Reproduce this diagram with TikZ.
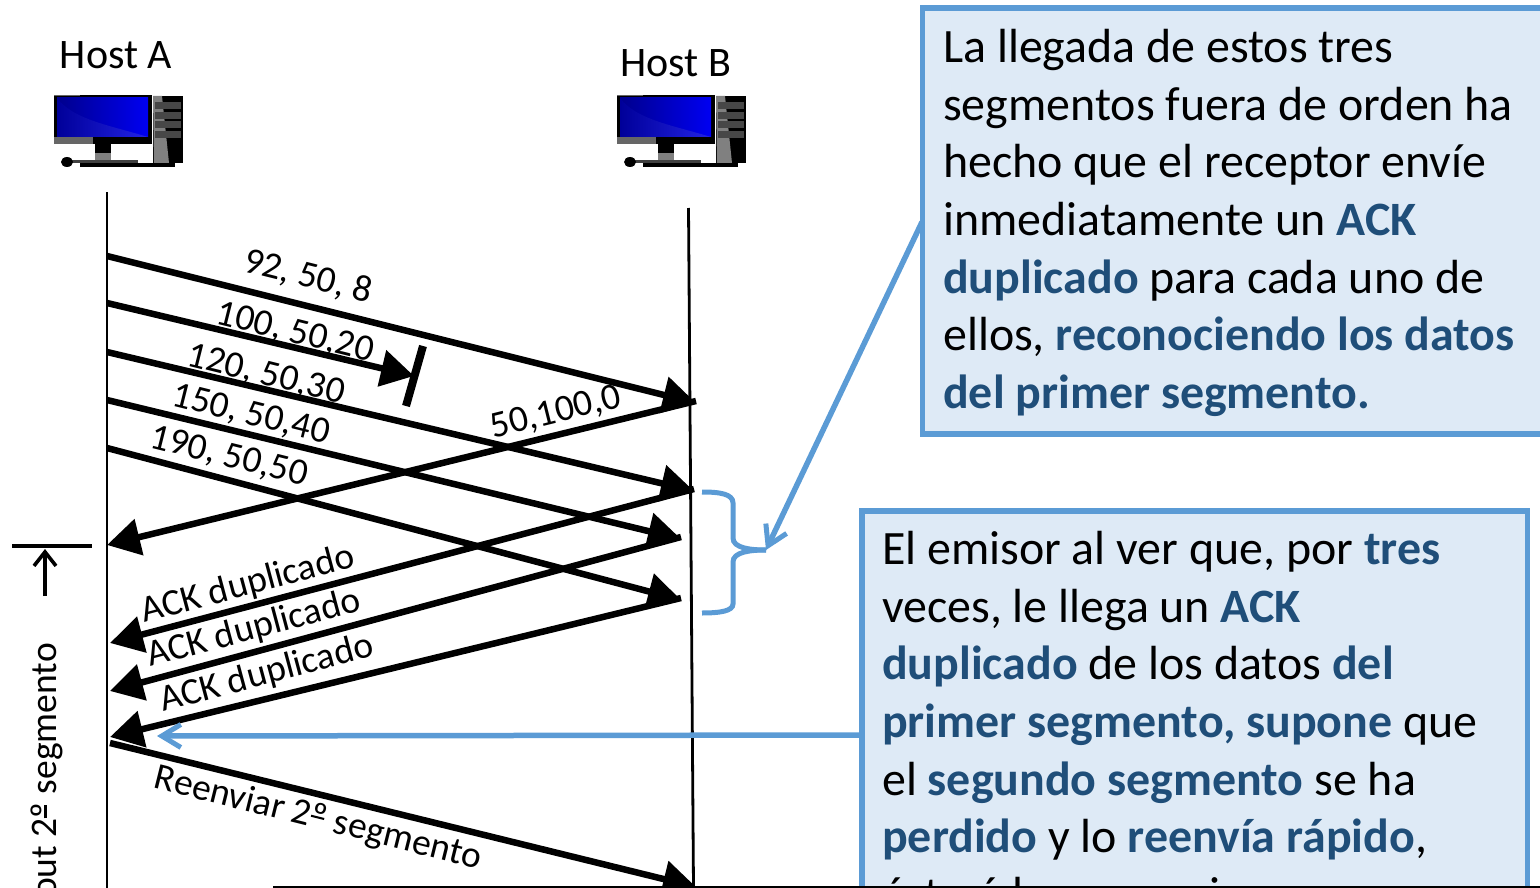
\documentclass[tikz,border=0pt]{standalone}
\usepackage{fontspec}
\setmainfont{Carlito}
\usetikzlibrary{arrows.meta}
\definecolor{bluel}{HTML}{5B9BD5}
\definecolor{boxf}{HTML}{DEEAF6}
\definecolor{dk}{HTML}{1F4E79}
\newcommand{\kw}[1]{\textbf{\textcolor{dk}{#1}}}
\newcommand{\ordo}{\makebox[0pt][l]{\rule[0.27em]{0.36em}{0.055em}}º}
\newcommand{\pcicon}[2]{%
\begin{scope}[shift={(#1,#2)}]
\fill[black] (0,0) rectangle (98,49);
\fill[gray!80!black] (0,42) rectangle (39,49);
\fill[gray!80!black] (0,0) rectangle (26,1.5);
\shade[left color=blue!55!black,right color=blue!95!black] (3,3) rectangle (94,42);
\shade[left color=blue!60!black,right color=blue!85!white!90!black] (3,3) .. controls (20,25) and (55,30) .. (94,42) -- (3,42) -- cycle;
\fill[black] (41,49) rectangle (57,58);
\fill[gray] (41,58) rectangle (57,66);
\fill[black!75] (18,65) rectangle (84,68);
\fill[black] (99,1) rectangle (129,68);
\fill[gray] (99,1) -- (108,1) -- (115,68) -- (100,69) -- cycle;
\foreach \yy in {7,17,26,36}{\fill[black!72] (101,\yy) rectangle (127,\yy+7);}
\fill[black] (13,67) ellipse (6 and 5);
\fill[black] (26,68) rectangle (121,72);
\end{scope}}
\tikzset{
x=1pt,y=-1pt,
lbl/.style={font=\fontsize{37.5}{37.5}\selectfont,inner sep=0pt},
hlbl/.style={font=\fontsize{42}{42}\selectfont,inner sep=0pt},
hostl/.style={line width=2.8pt,black},
msg/.style={line width=6.5pt,-{Triangle[length=33pt,width=36pt]}},
callout/.style={draw=bluel,fill=boxf,line width=5.5pt},
ctext/.style={font=\fontsize{47.9}{57.7}\selectfont,inner sep=0pt,anchor=north west,align=left},
bluear/.style={draw=bluel,line width=5.5pt,-{Straight Barb[length=19pt,width=23pt,line width=5pt]}}
}
\begin{document}
\begin{tikzpicture}
\useasboundingbox (0,0) rectangle (1540,888);
\begin{scope}
\clip (0,0) rectangle (1540,888);
\node[hlbl,anchor=center] (ha) at (116,55) {Host A};
\node[hlbl,anchor=center] (hb) at (676,63) {Host B};
\pcicon{54}{95}
\pcicon{617}{95}
% lifelines
\coordinate (a0) at (107,192); \coordinate (a1) at (107,888);
\coordinate (b0) at (688.5,208); \coordinate (b1) at (693.5,888);
\draw[hostl] (a0) -- (a1);
\draw[hostl] (b0) -- (b1);
% messages
\coordinate (s1) at (107,256); \coordinate (e1) at (696,403);
\coordinate (s2) at (107,303); \coordinate (e2) at (414,376);
\coordinate (s3) at (107,352); \coordinate (e3) at (694,491);
\coordinate (s4) at (107,400); \coordinate (e4) at (681,539);
\coordinate (s5) at (107,448); \coordinate (e5) at (681,600);
\coordinate (r1) at (696,401); \coordinate (t1) at (107,545);
\coordinate (r2) at (694,489); \coordinate (t2) at (110,643);
\coordinate (r3) at (681,537); \coordinate (t3) at (110,691);
\coordinate (r4) at (681,598); \coordinate (t4) at (110,737);
\coordinate (s6) at (110,743); \coordinate (e6) at (696,887);
\foreach \p/\q in {s1/e1,s2/e2,s3/e3,s4/e4,s5/e5,r1/t1,r2/t2,r3/t3,r4/t4,s6/e6}
  \draw[msg] (\p) -- (\q);
\coordinate (x0) at (423,346); \coordinate (x1) at (406,406);
\draw[line width=8pt] (x0) -- (x1);
% labels
\node[lbl,rotate=-14] (l1) at (308,277) {92, 50, 8};
\node[lbl,rotate=-14] (l2) at (295,333) {100, 50,20};
\node[lbl,rotate=-14] (l3) at (266,375) {120, 50,30};
\node[lbl,rotate=-14] (l4) at (251,415) {150, 50,40};
\node[lbl,rotate=-14] (l5) at (229,457) {190, 50,50};
\node[lbl,rotate=14] (l6) at (556,413) {50,100,0};
\node[lbl,rotate=15] (l7) at (248,585) {ACK duplicado};
\node[lbl,rotate=15] (l8) at (254,629) {ACK duplicado};
\node[lbl,rotate=15] (l9) at (267,674) {ACK duplicado};
\node[lbl,rotate=-14] (l10) at (318,819) {Reenviar 2\ordo{} segmento};
% timeout
\coordinate (to0) at (12,546); \coordinate (to1) at (92,546);
\draw[line width=3.6pt] (to0) -- (to1);
\coordinate (tb) at (45,596); \coordinate (tt) at (45,549);
\draw[line width=3.6pt,-{Straight Barb[length=14pt,width=22pt,line width=3.6pt]}] (tb) -- (tt);
\node[lbl,rotate=90,anchor=east] (tol) at (47,643) {Timeout 2\ordo{} segmento};
% boxes
\draw[callout] (922.5,8) rectangle (1560,434);
\coordinate (c1) at (922,222);
\node[ctext] (t1box) at (943,29) {La llegada de estos tres\\segmentos fuera de orden ha\\hecho que el receptor envíe\\inmediatamente un \kw{ACK}\\\kw{duplicado} para cada uno de\\ellos, \kw{reconociendo los datos}\\\kw{del primer segmento.}};
\draw[callout] (862,511) rectangle (1527.5,950);
\node[ctext] (t2box) at (882,531) {El emisor al ver que, por \kw{tres}\\veces, le llega un \kw{ACK}\\\kw{duplicado} de los datos \kw{del}\\\kw{primer segmento, supone} que\\el \kw{segundo segmento} se ha\\\kw{perdido} y lo \kw{reenvía rápido},\\éstará lo nuevo si};
% brace
\coordinate (brt) at (702,492); \coordinate (brb) at (702,613); \coordinate (brm) at (766,550);
\draw[bluel,line width=5pt] (brt) .. controls (720,492) and (733,494) .. (733,503) -- (733,538) .. controls (733,548) and (750,550) .. (brm);
\draw[bluel,line width=5pt] (brb) .. controls (720,613) and (733,611) .. (733,604) -- (733,562) .. controls (733,552) and (750,550) .. (brm);
\coordinate (c2) at (862,735); \coordinate (c3) at (157,736);
\draw[bluear] (c1) -- (brm);
\draw[bluear] (c2) -- (c3);
% bottom cut
\fill[white] (273,887) rectangle (1540,900);
\coordinate (bl0) at (273,886.5); \coordinate (bl1) at (1540,886.5);
\draw[line width=2pt,black] (bl0) -- (bl1);
\end{scope}
\end{tikzpicture}
\end{document}
